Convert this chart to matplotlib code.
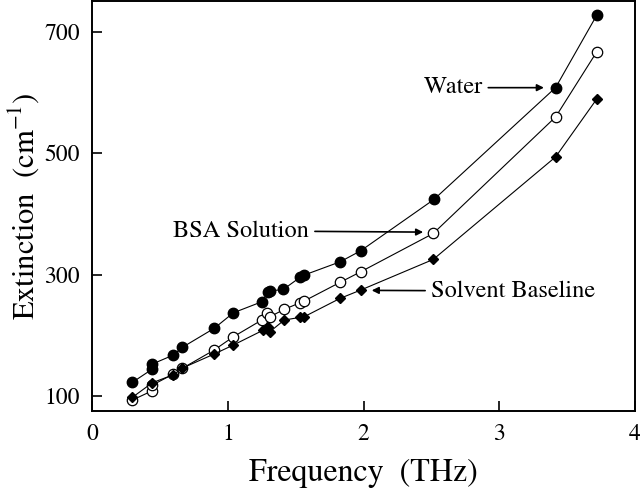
import matplotlib
matplotlib.use('Agg')
import matplotlib.pyplot as plt

# Data (frequency in THz, extinction in cm^-1)
water_f = [0.297, 0.444, 0.444, 0.599, 0.665, 0.899, 1.041, 1.25, 1.299, 1.31,
           1.409, 1.532, 1.562, 1.827, 1.979, 2.519, 3.416, 3.718]
water_e = [122.6, 144.4, 152.7, 167.5, 180.2, 211.4, 237.1, 255.2, 271.7, 273.0,
           275.6, 295.4, 299.2, 321.0, 339.2, 423.8, 608.2, 727.0]

bsa_f = [0.297, 0.444, 0.444, 0.599, 0.665, 0.899, 1.041, 1.25, 1.287, 1.31,
         1.415, 1.532, 1.562, 1.827, 1.979, 2.514, 3.416, 3.718]
bsa_e = [93.4, 108.7, 118.0, 136.2, 145.6, 175.7, 197.6, 225.1, 237.1, 230.5,
         242.7, 253.6, 256.4, 287.2, 304.6, 367.8, 559.8, 666.7]

solv_f = [0.297, 0.444, 0.599, 0.665, 0.899, 1.041, 1.262, 1.299, 1.31,
          1.415, 1.532, 1.562, 1.827, 1.979, 2.514, 3.416, 3.718]
solv_e = [97.9, 121.9, 135.0, 146.0, 169.1, 184.0, 208.6, 214.0, 205.8,
          225.1, 229.5, 230.5, 260.8, 274.5, 325.0, 494.0, 589.0]

x_ticks = [0, 1, 2, 3, 4]
y_ticks = [100, 300, 500, 700]

# Times-like serif (STIX ships with matplotlib)
plt.rcParams['font.family'] = ['STIXGeneral', 'DejaVu Serif']
plt.rcParams['mathtext.fontset'] = 'stix'

fig = plt.figure(figsize=(6.4, 4.93), dpi=100)
ax = fig.add_axes([0.144, 0.166, 0.848, 0.831])

ax.plot(water_f, water_e, '-o', color='black', lw=0.8, ms=7.5,
        mfc='black', mec='black')
ax.plot(bsa_f, bsa_e, '-o', color='black', lw=0.8, ms=7.5,
        mfc='white', mec='black', mew=0.9)
ax.plot(solv_f, solv_e, '-D', color='black', lw=0.8, ms=5.5,
        mfc='black', mec='black')

ax.set_xlim(0, 4)
ax.set_ylim(75, 750)
ax.set_xticks(x_ticks)
ax.set_yticks(y_ticks)
ax.tick_params(direction='in', length=7, width=1.2, labelsize=17,
               top=False, right=False, pad=9)
for s in ax.spines.values():
    s.set_linewidth(1.4)

ax.set_xlabel('Frequency  (THz)', fontsize=23, labelpad=10)
ax.set_ylabel(r'Extinction  (cm$^{-1}$)', fontsize=22)
ax.yaxis.set_label_coords(-0.095, 0.5)

arrow = dict(arrowstyle='-|>', color='black', lw=1.2, mutation_scale=10)
ax.annotate('Water', xy=(3.35, 608), xytext=(2.66, 608), fontsize=17.5,
            va='center', ha='center', arrowprops=arrow)
ax.annotate('BSA Solution', xy=(2.46, 370), xytext=(1.1, 372),
            fontsize=17.5, va='center', ha='center', arrowprops=arrow)
ax.annotate('Solvent Baseline', xy=(2.04, 274), xytext=(3.1, 273),
            fontsize=17.5, va='center', ha='center', arrowprops=arrow)

fig.savefig('out.png', dpi=100)
